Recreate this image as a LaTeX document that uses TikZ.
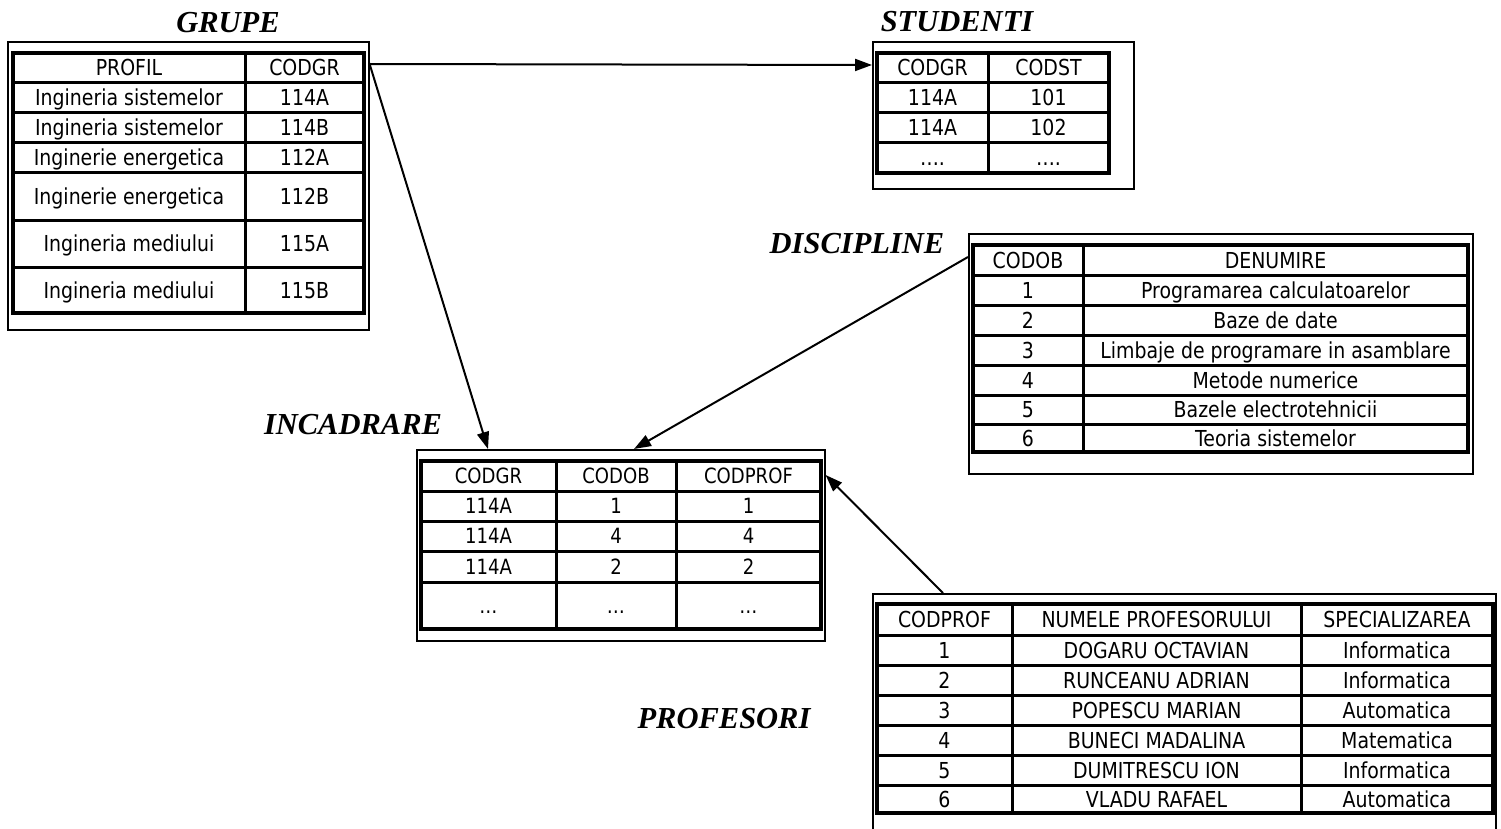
\documentclass[tikz,border=0pt]{standalone}
\usepackage{fontspec}
\setmainfont{DejaVu Sans}[FakeStretch=0.86]
\newfontfamily\titlefont{Liberation Serif}
\usetikzlibrary{arrows.meta,calc}
\begin{document}
\begin{tikzpicture}[x=1pt,y=-1pt,
  box/.style={draw, line width=1.6pt, inner sep=0pt, anchor=north west},
  cell/.style={inner sep=0pt, text height=16pt, text depth=0pt, font=\fontsize{22pt}{26pt}\selectfont},
  smallcell/.style={inner sep=0pt, text height=15pt, text depth=0pt, font=\fontsize{21pt}{25pt}\selectfont},
  ttl/.style={inner sep=0pt, text height=20pt, text depth=0pt, font=\titlefont\bfseries\itshape\fontsize{30.5pt}{34pt}\selectfont},
  link/.style={line width=2pt, -{Triangle[length=17pt,width=12pt]}},
  gridline/.style={line width=3pt},
  tframe/.style={line width=4pt}]

\useasboundingbox (0,0) rectangle (1501,829);

% ---------- GRUPE ----------
\node[ttl] (t-grupe) at (228,23) {GRUPE};
\node[box, minimum width=361pt, minimum height=288pt] (grupe) at (7,41) {};
\draw[tframe] (13,53) rectangle (364,313);
\foreach \y in {83,113,143,173,220,267} \draw[gridline] (13,\y) -- (364,\y);
\draw[gridline] (245,53) -- (245,313);
\foreach \a/\b [count=\i] in {68/PROFIL, 98/Ingineria sistemelor, 128/Ingineria sistemelor, 158/Inginerie energetica, 196.5/Inginerie energetica, 243.5/Ingineria mediului, 290/Ingineria mediului}
  \node[cell] (g-a\i) at (129,\a) {\b};
\foreach \a/\b [count=\i] in {68/CODGR, 98/114A, 128/114B, 158/112A, 196.5/112B, 243.5/115A, 290/115B}
  \node[cell] (g-b\i) at (304.5,\a) {\b};

% ---------- STUDENTI ----------
\node[ttl] (t-studenti) at (957,22) {STUDENTI};
\node[box, minimum width=261pt, minimum height=147pt] (studenti) at (872,41) {};
\draw[tframe] (877,53) rectangle (1109,173);
\foreach \y in {83,113,143} \draw[gridline] (877,\y) -- (1109,\y);
\draw[gridline] (988,53) -- (988,173);
\foreach \a/\b/\c [count=\i] in {68/CODGR/CODST, 98/114A/101, 128/114A/102, 158/…./….}
  {\node[cell] (s-a\i) at (932.5,\a) {\b};
   \node[cell] (s-b\i) at (1048.5,\a) {\c};}

% ---------- DISCIPLINE ----------
\node[ttl] (t-discipline) at (857,243) {DISCIPLINE};
\node[box, minimum width=504pt, minimum height=240pt] (discipline) at (968,233) {};
\draw[tframe] (973,245) rectangle (1468,452);
\foreach \y in {275,305,335,365,395,424} \draw[gridline] (973,\y) -- (1468,\y);
\draw[gridline] (1083,245) -- (1083,452);
\foreach \a/\b/\c [count=\i] in {260/CODOB/DENUMIRE, 290/1/Programarea calculatoarelor, 320/2/Baze de date, 350/3/Limbaje de programare in asamblare, 380/4/Metode numerice, 409.5/5/Bazele electrotehnicii, 438/6/Teoria sistemelor}
  {\node[cell] (d-a\i) at (1028,\a) {\b};
   \node[cell] (d-b\i) at (1275.5,\a) {\c};}

% ---------- INCADRARE ----------
\node[ttl] (t-incadrare) at (353,424) {INCADRARE};
\node[box, minimum width=408pt, minimum height=191pt] (incadrare) at (416,449) {};
\draw[tframe] (421,461) rectangle (821,629);
\foreach \y in {491,521,551,582} \draw[gridline] (421,\y) -- (821,\y);
\draw[gridline] (556,461) -- (556,629);
\draw[gridline] (676,461) -- (676,629);
\foreach \a/\b/\c/\d [count=\i] in {476/CODGR/CODOB/CODPROF, 506/114A/1/1, 536/114A/4/4, 566.5/114A/2/2, 605.5/…/…/…}
  {\node[smallcell] (i-a\i) at (488.5,\a) {\b};
   \node[smallcell] (i-b\i) at (616,\a) {\c};
   \node[smallcell] (i-c\i) at (748.5,\a) {\d};}

% ---------- PROFESORI ----------
\node[ttl] (t-profesori) at (724,718) {PROFESORI};
\node[box, minimum width=623pt, minimum height=260pt] (profesori) at (872,593) {};
\draw[tframe] (877,604) rectangle (1493,813);
\foreach \y in {635,665,695,725,755,785} \draw[gridline] (877,\y) -- (1493,\y);
\draw[gridline] (1012,604) -- (1012,813);
\draw[gridline] (1301,604) -- (1301,813);
\foreach \a/\b/\c/\d [count=\i] in {619.5/CODPROF/NUMELE PROFESORULUI/SPECIALIZAREA, 650/1/DOGARU OCTAVIAN/Informatica, 680/2/RUNCEANU ADRIAN/Informatica, 710/3/POPESCU MARIAN/Automatica, 740/4/BUNECI MADALINA/Matematica, 770/5/DUMITRESCU ION/Informatica, 799/6/VLADU RAFAEL/Automatica}
  {\node[cell] (p-a\i) at (944.5,\a) {\b};
   \node[cell] (p-b\i) at (1156.5,\a) {\c};
   \node[cell] (p-c\i) at (1397,\a) {\d};}

% ---------- connectors ----------
\coordinate (gstart) at ($(grupe.north east)+(0,23)$);
\draw[link] (gstart) -- ($(studenti.north west)+(0,24)$);
\draw[link] (gstart) -- ($(incadrare.north west)+(72,0)$);
\draw[link] ($(discipline.north west)+(0,24)$) -- ($(incadrare.north west)+(218,0)$);
\draw[link] ($(profesori.north west)+(71,0)$) -- ($(incadrare.north east)+(0,26)$);
\end{tikzpicture}
\end{document}
